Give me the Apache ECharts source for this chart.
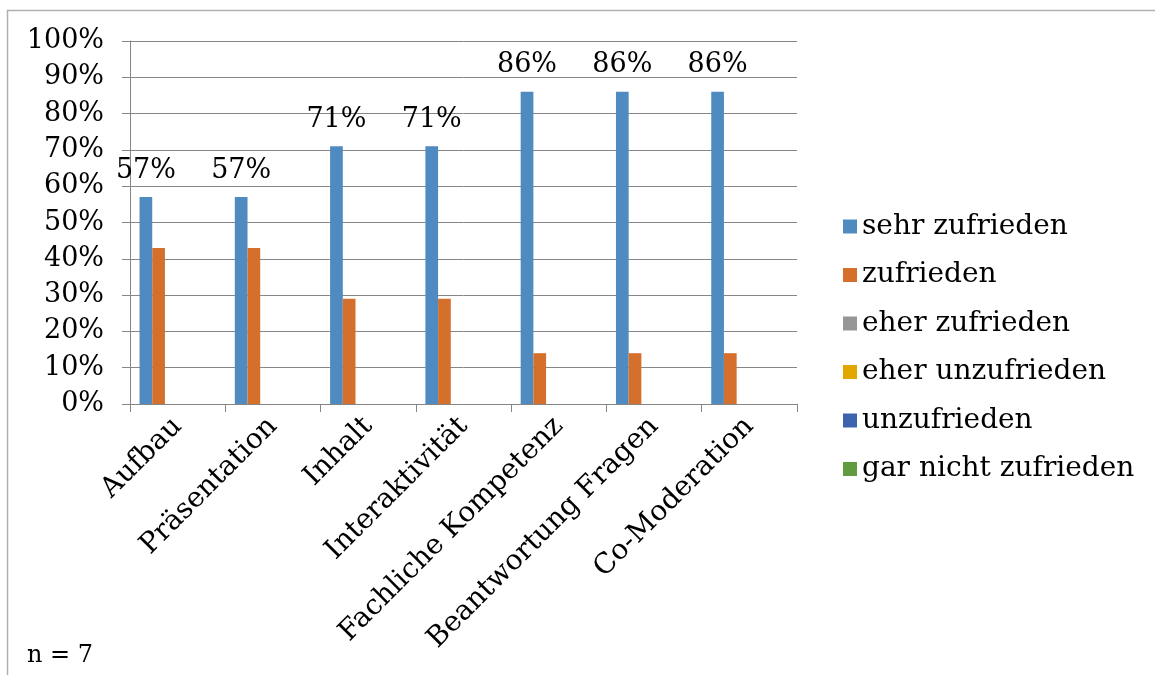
<!DOCTYPE html>
<html>
<head>
<meta charset="utf-8">
<script src="https://cdn.jsdelivr.net/npm/echarts@6/dist/echarts.min.js"></script>
<style>
  html, body { margin: 0; padding: 0; background: #fff; }
  #chart { width: 1155px; height: 675px; }
</style>
</head>
<body>
<div id="chart"></div>
<script>
// Werte aus der Vorlage
const categories = ['Aufbau', 'Präsentation', 'Inhalt', 'Interaktivität', 'Fachliche Kompetenz', 'Beantwortung Fragen', 'Co-Moderation'];
const seriesNames = ['sehr zufrieden', 'zufrieden', 'eher zufrieden', 'eher unzufrieden', 'unzufrieden', 'gar nicht zufrieden'];
const sehrZufrieden = [57, 57, 71, 71, 86, 86, 86];
const zufrieden = [43, 43, 29, 29, 14, 14, 14];
const eherZufrieden = [0, 0, 0, 0, 0, 0, 0];
const eherUnzufrieden = [0, 0, 0, 0, 0, 0, 0];
const unzufrieden = [0, 0, 0, 0, 0, 0, 0];
const garNichtZufrieden = [0, 0, 0, 0, 0, 0, 0];
const colors = ['#4f8bc0', '#d5702c', '#969696', '#e3a800', '#3d63ae', '#619a3f'];

const font = 'DejaVu Serif';
const allValues = [sehrZufrieden, zufrieden, eherZufrieden, eherUnzufrieden, unzufrieden, garNichtZufrieden];

const chart = echarts.init(document.getElementById('chart'));

const series = seriesNames.map((name, i) => ({
  name: name,
  type: 'bar',
  data: allValues[i],
  barGap: 0,
  barCategoryGap: '20%',
  itemStyle: { color: colors[i] },
  label: i === 0 ? {
    show: true,
    position: 'top',
    distance: 13,
    formatter: '{c}%',
    fontFamily: font,
    fontSize: 27,
    color: '#000'
  } : { show: false }
}));

chart.setOption({
  animation: false,
  color: colors,
  graphic: [
    {
      type: 'rect',
      shape: { x: 7.5, y: 10.5, width: 1200, height: 700 },
      style: { fill: 'none', stroke: '#b0b0b0', lineWidth: 1.5 },
      silent: true
    },
    {
      type: 'text',
      left: 27,
      top: 644,
      style: { text: 'n = 7', font: '24px "DejaVu Serif"', fill: '#000' }
    }
  ],
  grid: { left: 130, right: 358, top: 41, bottom: 271 },
  legend: {
    orient: 'vertical',
    left: 838,
    top: 207,
    itemWidth: 14,
    itemHeight: 14,
    itemGap: 19.5,
    icon: 'rect',
    data: seriesNames,
    textStyle: { fontFamily: font, fontSize: 28, color: '#000', lineHeight: 29 }
  },
  xAxis: {
    type: 'category',
    data: categories,
    axisLine: { lineStyle: { color: '#868686', width: 1 } },
    axisTick: { show: true, length: 8, lineStyle: { color: '#868686' } },
    axisLabel: {
      rotate: 45,
      interval: 0,
      margin: 18,
      fontFamily: font,
      fontSize: 28,
      color: '#000'
    }
  },
  yAxis: {
    type: 'value',
    min: 0,
    max: 100,
    interval: 10,
    axisLine: { show: true, lineStyle: { color: '#868686' } },
    axisTick: { show: true, length: 8, lineStyle: { color: '#868686' } },
    splitLine: { lineStyle: { color: '#868686' } },
    axisLabel: {
      formatter: '{value}%',
      margin: 26,
      fontFamily: font,
      fontSize: 27,
      color: '#000'
    }
  },
  series: series
});
</script>
</body>
</html>
